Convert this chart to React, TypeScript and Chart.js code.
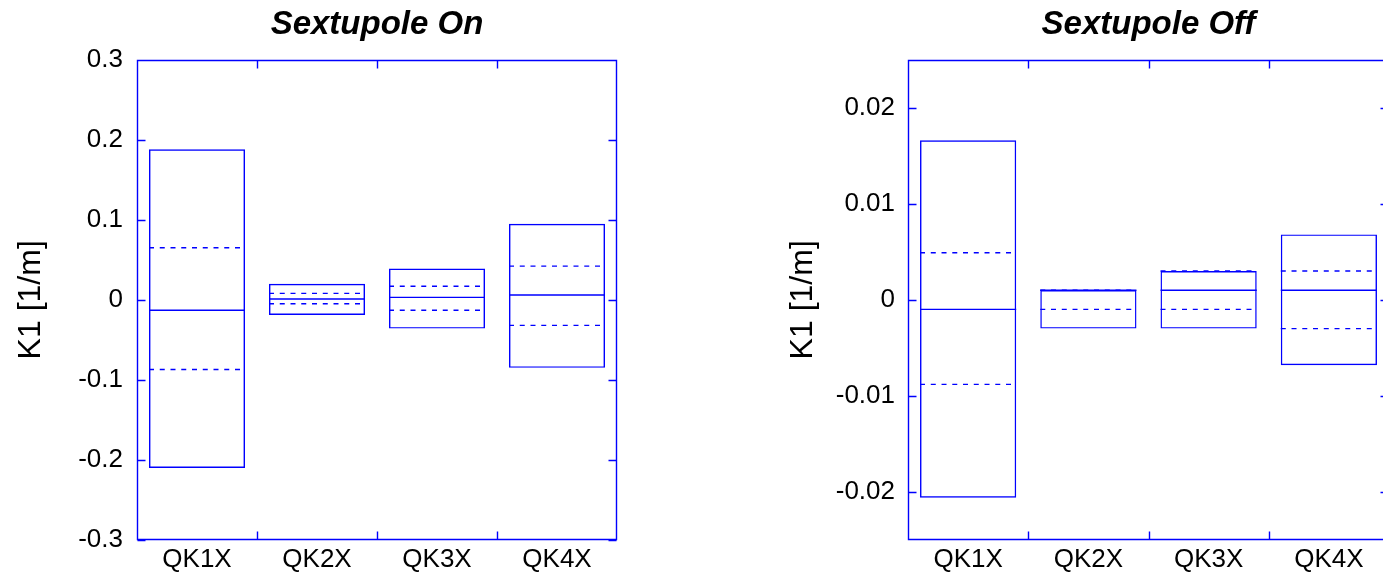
import React, { useEffect, useRef } from 'react';
import Chart from 'chart.js/auto';

// ---------- data ----------
const categories = ['QK1X', 'QK2X', 'QK3X', 'QK4X'];

// Sextupole On
const onMax = [0.188, 0.020, 0.039, 0.095];
const onMin = [-0.210, -0.019, -0.036, -0.085];
const onMean = [-0.013, 0.001, 0.003, 0.006];
const onUpper = [0.065, 0.008, 0.017, 0.042];
const onLower = [-0.087, -0.005, -0.013, -0.032];
const onTicks = [-0.3, -0.2, -0.1, 0, 0.1, 0.2, 0.3];

// Sextupole Off
const offMax = [0.0166, 0.001, 0.003, 0.0068];
const offMin = [-0.0206, -0.003, -0.003, -0.0068];
const offMean = [-0.001, 0.001, 0.001, 0.001];
const offUpper = [0.0049, 0.001, 0.003, 0.003];
const offLower = [-0.0088, -0.001, -0.001, -0.003];
const offTicks = [-0.02, -0.01, 0, 0.01, 0.02];

// ---------- style ----------
const BLUE = '#0000ff';
const LW = 1.4;
const FONT = '"Liberation Sans", Arial, Helvetica, sans-serif';
const HALF = 0.4; // half box width in category units
const TICK_LEN = 8;

function segments(values: number[]) {
  const pts: any[] = [];
  values.forEach((v, i) => {
    pts.push({ x: i - HALF, y: v }, { x: i + HALF, y: v }, { x: i + 0.5, y: null });
  });
  return pts;
}

const framePlugin = {
  id: 'matlabFrame',
  afterDatasetsDraw(chart: any) {
    const { ctx, chartArea: a, scales } = chart;
    const xs = scales.x;
    const ys = scales.y;
    const L = Math.round(a.left) + 0.5;
    const R = Math.round(a.right) - 0.5;
    const T = Math.round(a.top) + 0.5;
    const B = Math.round(a.bottom) - 0.5;
    ctx.save();
    ctx.strokeStyle = BLUE;
    ctx.lineWidth = LW;
    ctx.setLineDash([]);
    ctx.beginPath();
    ctx.rect(L, T, R - L, B - T);
    ys.ticks.forEach((t: any) => {
      const py = Math.round(ys.getPixelForValue(t.value)) + 0.5;
      ctx.moveTo(L, py);
      ctx.lineTo(L + TICK_LEN, py);
      ctx.moveTo(R, py);
      ctx.lineTo(R - TICK_LEN, py);
    });
    for (let i = 0; i < categories.length - 1; i++) {
      const px = Math.round(xs.getPixelForValue(i + 0.5)) + 0.5;
      ctx.moveTo(px, T);
      ctx.lineTo(px, T + TICK_LEN);
      ctx.moveTo(px, B);
      ctx.lineTo(px, B - TICK_LEN);
    }
    ctx.stroke();
    ctx.restore();
  },
};

interface PanelCfg {
  title: string;
  max: number[];
  min: number[];
  mean: number[];
  upper: number[];
  lower: number[];
  ticks: number[];
  yMin: number;
  yMax: number;
  yWidth: number;
  yTitlePad: number;
  tickPad: number;
  padRight: number;
}

function makeConfig(c: PanelCfg): any {
  const lineBase = {
    type: 'line',
    borderColor: BLUE,
    borderWidth: LW,
    pointRadius: 0,
    pointHoverRadius: 0,
    spanGaps: false,
    fill: false,
    tension: 0,
  };
  return {
    type: 'bar',
    data: {
      datasets: [
        {
          type: 'bar',
          data: categories.map((_, i) => ({ x: i, y: [c.min[i], c.max[i]] })),
          backgroundColor: 'rgba(0,0,0,0)',
          borderColor: BLUE,
          borderWidth: LW,
          borderSkipped: false,
          inflateAmount: 0,
          barPercentage: 0.8,
          categoryPercentage: 1,
        },
        { ...lineBase, data: segments(c.mean) },
        { ...lineBase, data: segments(c.upper), borderDash: [5, 5.75] },
        { ...lineBase, data: segments(c.lower), borderDash: [5, 5.75] },
      ],
    },
    options: {
      animation: false,
      responsive: false,
      events: [],
      layout: { padding: { left: 0, right: c.padRight, top: 0, bottom: 0 } },
      plugins: {
        legend: { display: false },
        tooltip: { enabled: false },
        title: {
          display: true,
          fullSize: false,
          text: c.title,
          color: '#000',
          font: { family: FONT, size: 33, weight: 'bold', style: 'italic' },
          padding: { top: 5, bottom: 15 },
        },
      },
      scales: {
        x: {
          type: 'linear',
          offset: false,
          min: -0.5,
          max: categories.length - 0.5,
          afterBuildTicks: (s: any) => {
            s.ticks = categories.map((_, i) => ({ value: i }));
          },
          afterFit: (s: any) => {
            s.height = 33;
          },
          grid: { display: false, drawTicks: false, tickLength: 0 },
          border: { display: false },
          ticks: {
            autoSkip: false,
            maxRotation: 0,
            padding: 4,
            color: '#000',
            font: { family: FONT, size: 26 },
            callback: (v: any) => categories[Math.round(v)] ?? '',
          },
        },
        y: {
          type: 'linear',
          min: c.yMin,
          max: c.yMax,
          afterBuildTicks: (s: any) => {
            s.ticks = c.ticks.map((v) => ({ value: v }));
          },
          afterFit: (s: any) => {
            s.width = c.yWidth;
          },
          grid: { display: false, drawTicks: false, tickLength: 0 },
          border: { display: false },
          ticks: {
            padding: c.tickPad,
            color: '#000',
            font: { family: FONT, size: 26 },
            callback: (v: any) => String(Number(Number(v).toFixed(4))),
          },
          title: {
            display: true,
            text: 'K1 [1/m]',
            color: '#000',
            font: { family: FONT, size: 32 },
            padding: { top: c.yTitlePad, bottom: 0 },
          },
        },
      },
    },
    plugins: [framePlugin],
  };
}

function Panel(props: { cfg: PanelCfg; left: number; width: number }) {
  const ref = useRef<HTMLCanvasElement>(null);
  useEffect(() => {
    if (!ref.current) return;
    const chart = new Chart(ref.current, makeConfig(props.cfg));
    return () => chart.destroy();
  }, []);
  return (
    <canvas
      ref={ref}
      width={props.width}
      height={573}
      style={{ position: 'absolute', left: props.left, top: 0, width: props.width, height: 573, display: 'block' }}
    />
  );
}

const onCfg: PanelCfg = {
  title: 'Sextupole On',
  max: onMax,
  min: onMin,
  mean: onMean,
  upper: onUpper,
  lower: onLower,
  ticks: onTicks,
  yMin: -0.3,
  yMax: 0.3,
  yWidth: 137,
  yTitlePad: 12,
  tickPad: 14,
  padRight: 137,
};

const offCfg: PanelCfg = {
  title: 'Sextupole Off',
  max: offMax,
  min: offMin,
  mean: offMean,
  upper: offUpper,
  lower: offLower,
  ticks: offTicks,
  yMin: -0.025,
  yMax: 0.025,
  yWidth: 148,
  yTitlePad: 24,
  tickPad: 13,
  padRight: 148,
};

export default function App() {
  return (
    <div
      style={{
        position: 'fixed',
        left: 0,
        top: 0,
        width: 1383,
        height: 573,
        overflow: 'hidden',
        background: '#fff',
      }}
    >
      <Panel cfg={onCfg} left={0} width={754} />
      <Panel cfg={offCfg} left={760} width={777} />
    </div>
  );
}
